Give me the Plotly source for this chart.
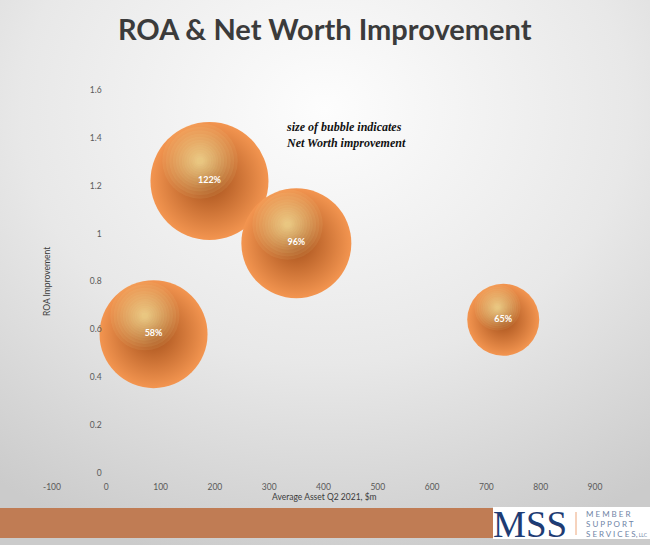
import base64
import plotly.graph_objects as go

# ---------------- data ----------------
asset_m = [190, 350, 87, 731]          # Average Asset Q2 2021, $m
roa_improvement = [1.22, 0.96, 0.58, 0.64]
nw_labels = ["122%", "96%", "58%", "65%"]
bubble_size = [118, 110, 108, 72]      # bubble diameters as drawn
x_ticks = [-100, 0, 100, 200, 300, 400, 500, 600, 700, 800, 900]
x_ticktext = ["-100", "0", "100", "200", "300", "400", "500", "600", "700", "800", "900"]

W, H = 650, 545
L, R, T, B = 52, 55, 90, 72
PW, PH = W - L - R, H - T - B
XR = [-100, 900]
YR = [0, 1.6]


def px2paper(px, py):
    return (px - L) / PW, (H - B - py) / PH


# background gradient image (decoration)
svg = f'''<svg xmlns="http://www.w3.org/2000/svg" width="{W}" height="{H}">
<defs><radialGradient id="g" cx="0.5" cy="0.2" r="0.85">
<stop offset="0" stop-color="#fdfdfd"/><stop offset="0.55" stop-color="#e8e8e8"/>
<stop offset="1" stop-color="#cbcbcb"/></radialGradient></defs>
<rect width="{W}" height="{H}" fill="url(#g)"/></svg>'''
bg_src = "data:image/svg+xml;base64," + base64.b64encode(svg.encode()).decode()

fig = go.Figure()

# main spheres
fig.add_trace(go.Scatter(
    x=asset_m, y=roa_improvement, mode="markers",
    marker=dict(size=bubble_size, sizemode="diameter", sizeref=1,
                color="#F39550",
                gradient=dict(type="radial", color="#A44F1A"),
                line=dict(width=0), opacity=1),
    hoverinfo="skip", cliponaxis=False, showlegend=False))

# soft highlights (offset toward upper-left of each sphere), stacked translucent layers
xpu = PW / (XR[1] - XR[0])
ypu = PH / (YR[1] - YR[0])
hx = [x - 0.16 * s / 2 / xpu for x, s in zip(asset_m, bubble_size)]
hy = [y + 0.34 * s / 2 / ypu for y, s in zip(roa_improvement, bubble_size)]
layers = [0.64, 0.58, 0.52, 0.46, 0.41, 0.36, 0.31, 0.27, 0.23, 0.19, 0.15, 0.12, 0.09, 0.06]
for f in layers:
    fig.add_trace(go.Scatter(
        x=hx, y=hy, mode="markers",
        marker=dict(size=[s * f for s in bubble_size], sizemode="diameter",
                    color="rgba(255,240,175,0.12)", line=dict(width=0)),
        hoverinfo="skip", cliponaxis=False, showlegend=False))

# labels
fig.add_trace(go.Scatter(
    x=asset_m, y=roa_improvement, mode="text", text=nw_labels,
    textfont=dict(family="Lato, Open Sans, sans-serif", size=9, color="white", weight="bold"),
    hoverinfo="skip", cliponaxis=False, showlegend=False))

ann = []


def add_text(px, py, text, font, xanchor="center", yanchor="middle", **kw):
    x, y = px2paper(px, py)
    ann.append(dict(x=x, y=y, xref="paper", yref="paper", showarrow=False,
                    xanchor=xanchor, yanchor=yanchor, text=text, font=font, **kw))


add_text(325, 28, "<b>ROA & Net Worth Improvement</b>",
         dict(family="Lato, Open Sans, sans-serif", size=29, color="#3b3b3b"))
add_text(284, 135, "<b><i>size of bubble indicates<br>Net Worth improvement</i></b>",
         dict(family="Liberation Serif, DejaVu Serif, serif", size=12, color="#111111"),
         xanchor="left", align="left")
add_text(47, 282, "ROA Improvement",
         dict(family="Lato, Open Sans, sans-serif", size=8.5, color="#3b3b3b"), textangle=-90)
add_text(324, 497, "Average Asset Q2 2021, $m",
         dict(family="Lato, Open Sans, sans-serif", size=8.5, color="#3b3b3b"))
# logo
add_text(530, 524, "MSS", dict(family="Liberation Serif, serif", size=37, color="#1E3C74"))
for i, t in enumerate(["M E M B E R", "S U P P O R T",
                       "S E R V I C E S,<span style='font-size:5px'> LLC</span>"]):
    add_text(584, 514 + i * 10, t, dict(family="Lato, sans-serif", size=8, color="#6F84A6"),
             xanchor="left")

shapes = []
x0, y0 = px2paper(0, 508)
x1, y1 = px2paper(493, 538)
shapes.append(dict(type="rect", xref="paper", yref="paper", x0=x0, y0=y0, x1=x1, y1=y1,
                   fillcolor="#C07C54", line=dict(width=0), layer="below"))
x0, y0 = px2paper(493, 507)
x1, y1 = px2paper(650, 539)
shapes.append(dict(type="rect", xref="paper", yref="paper", x0=x0, y0=y0, x1=x1, y1=y1,
                   fillcolor="white", line=dict(width=0), layer="below"))
x0, y0 = px2paper(576, 512)
x1, y1 = px2paper(576, 535)
shapes.append(dict(type="line", xref="paper", yref="paper", x0=x0, y0=y0, x1=x1, y1=y1,
                   line=dict(color="#EDA77C", width=1)))

ix, iy = px2paper(0, 0)
fig.update_layout(
    width=W, height=H,
    margin=dict(l=L, r=R, t=T, b=B),
    paper_bgcolor="#e4e4e4", plot_bgcolor="rgba(0,0,0,0)",
    images=[dict(source=bg_src, xref="paper", yref="paper", x=ix, y=iy,
                 sizex=W / PW, sizey=H / PH, xanchor="left", yanchor="top",
                 sizing="stretch", layer="below")],
    xaxis=dict(range=XR, tickvals=x_ticks, ticktext=x_ticktext, showgrid=False,
               zeroline=False, showline=False, ticks="outside", ticklen=6,
               tickcolor="rgba(0,0,0,0)",
               tickfont=dict(family="Lato, Open Sans, sans-serif", size=8.5, color="#595959")),
    yaxis=dict(range=YR, dtick=0.2, tick0=0, anchor="free", position=0.1,
               showgrid=False, zeroline=False, showline=False, ticks="outside", ticklen=3,
               tickcolor="rgba(0,0,0,0)",
               tickfont=dict(family="Lato, Open Sans, sans-serif", size=8.5, color="#595959")),
    annotations=ann, shapes=shapes,
)

fig.write_html("out.html")
